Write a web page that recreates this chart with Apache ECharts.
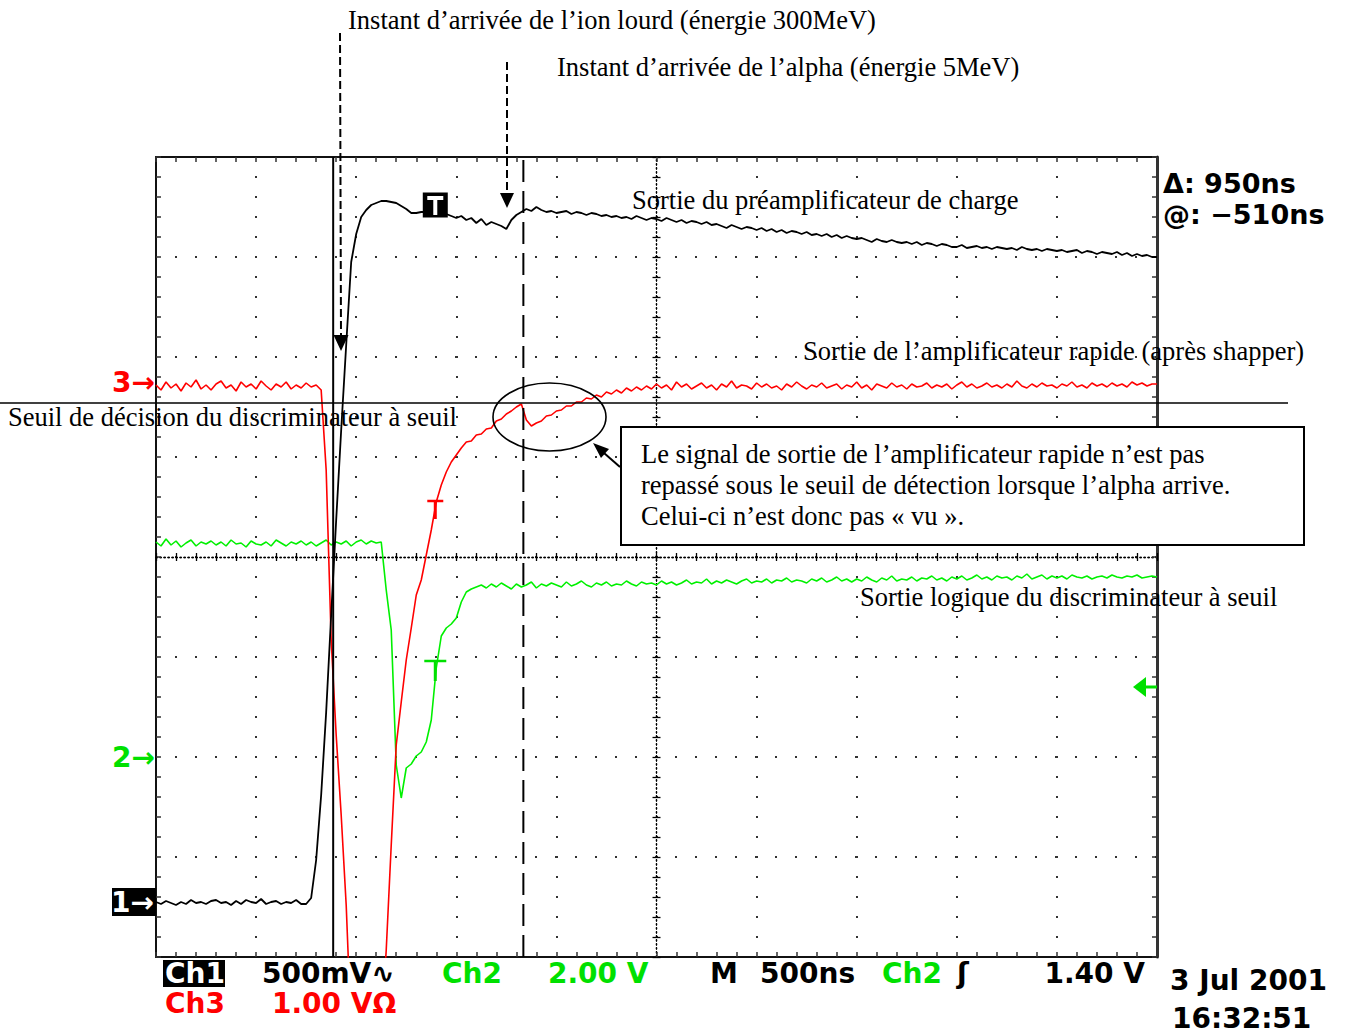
<!DOCTYPE html>
<html>
<head>
<meta charset="utf-8">
<script src="https://cdn.jsdelivr.net/npm/echarts@6/dist/echarts.min.js"></script>
<style>
html,body{margin:0;padding:0;background:#fff;}
#c{width:1350px;height:1035px;}
</style>
</head>
<body>
<div id="c"></div>
<script>
// ---- oscilloscope timebase (ns) : 500 ns/div, 10 div, samples every 25 ns
const T0 = -2500, DT = 25;
const timeMin = -2500, timeMax = 2500, timeStep = 500;
const divMin = -4, divMax = 4;

// ---- channel settings (V/div, ground position in divisions)
const ch1Scale = 0.5, ch1Ground = -3.45;   // preamp (black)
const ch2Scale = 2.0, ch2Ground = -2.0;    // logic output (green)
const ch3Scale = 1.0, ch3Ground = 1.75;    // fast amp (red)

// ---- cursors, trigger, threshold
const cursorTimes = [-1615, -665];         // Δ 950 ns
const triggerTime = -1105;
const triggerLevelCh2 = 1.40;              // V
const thresholdCh3 = -0.21;                // V
const triggerMarkVolts = [3.485, 1.92, -1.19]; // ch1, ch2, ch3

// ---- Ch1 : sortie du préamplificateur de charge (V)
const ch1Volts = [
 0.000,-0.010,0.005,-0.005,-0.015,0.000,-0.010,0.010,-0.005,0.000,
 -0.010,0.005,0.010,-0.005,0.000,-0.015,0.005,-0.010,0.010,0.000,
 -0.005,0.015,-0.010,0.000,0.005,-0.010,0.000,-0.005,0.010,-0.010,
 -0.010,0.020,0.210,0.535,0.950,1.435,1.910,2.360,2.785,3.200,
 3.340,3.425,3.460,3.485,3.495,3.505,3.505,3.500,3.495,3.480,
 3.465,3.445,3.445,3.450,3.450,3.445,3.450,3.445,3.440,3.430,
 3.420,3.430,3.410,3.420,3.395,3.415,3.385,3.400,3.390,3.380,
 3.365,3.410,3.435,3.450,3.465,3.455,3.475,3.460,3.450,3.455,
 3.445,3.450,3.455,3.440,3.450,3.445,3.435,3.445,3.440,3.430,
 3.435,3.425,3.430,3.420,3.425,3.415,3.430,3.420,3.410,3.420,
 3.415,3.405,3.420,3.410,3.400,3.410,3.395,3.405,3.400,3.390,
 3.400,3.385,3.390,3.380,3.370,3.385,3.375,3.365,3.375,3.370,
 3.360,3.370,3.355,3.365,3.350,3.360,3.345,3.355,3.350,3.340,
 3.350,3.335,3.340,3.330,3.340,3.325,3.335,3.320,3.330,3.320,
 3.315,3.320,3.310,3.300,3.315,3.305,3.300,3.310,3.300,3.295,
 3.300,3.290,3.300,3.285,3.295,3.290,3.280,3.290,3.285,3.275,
 3.275,3.285,3.270,3.275,3.280,3.270,3.275,3.265,3.275,3.270,
 3.265,3.270,3.260,3.275,3.265,3.260,3.265,3.255,3.265,3.260,
 3.255,3.260,3.250,3.255,3.260,3.245,3.255,3.250,3.240,3.250,
 3.245,3.240,3.250,3.235,3.245,3.230,3.240,3.230,3.235,3.225,
 3.225
];

// ---- Ch2 : sortie logique du discriminateur (V)
const ch2Volts = [
 4.30,4.22,4.36,4.24,4.32,4.20,4.28,4.34,4.22,4.30,
 4.26,4.32,4.24,4.30,4.22,4.34,4.26,4.28,4.20,4.32,
 4.26,4.24,4.30,4.22,4.34,4.28,4.22,4.30,4.26,4.32,
 4.24,4.30,4.22,4.28,4.34,4.24,4.30,4.26,4.32,4.22,
 4.30,4.34,4.26,4.32,4.28,4.30,3.34,2.54,-0.16,-0.82,
 -0.22,-0.14,0.02,0.10,0.30,0.74,1.78,2.42,2.58,2.66,
 2.78,3.10,3.30,3.36,3.40,3.44,3.38,3.46,3.40,3.48,
 3.42,3.36,3.46,3.40,3.44,3.50,3.38,3.46,3.42,3.48,
 3.44,3.40,3.50,3.42,3.46,3.52,3.44,3.40,3.48,3.44,
 3.50,3.42,3.46,3.44,3.52,3.46,3.42,3.50,3.46,3.48,
 3.44,3.52,3.46,3.50,3.44,3.48,3.54,3.46,3.50,3.48,
 3.56,3.46,3.52,3.48,3.54,3.50,3.46,3.52,3.56,3.48,
 3.52,3.50,3.56,3.48,3.54,3.52,3.58,3.50,3.54,3.52,
 3.48,3.56,3.52,3.58,3.50,3.54,3.60,3.52,3.56,3.50,
 3.56,3.52,3.60,3.54,3.50,3.58,3.54,3.62,3.52,3.56,
 3.54,3.60,3.52,3.58,3.56,3.62,3.54,3.58,3.52,3.60,
 3.56,3.62,3.54,3.58,3.64,3.56,3.60,3.54,3.62,3.58,
 3.60,3.54,3.62,3.58,3.66,3.56,3.60,3.64,3.56,3.62,
 3.58,3.62,3.56,3.64,3.60,3.58,3.62,3.56,3.60,3.62,
 3.58,3.64,3.60,3.58,3.62,3.60,3.64,3.58,3.60,3.62,
 3.60
];

// ---- Ch3 : sortie de l'amplificateur rapide (V)
const ch3Volts = [
 -0.03,-0.08,0.00,-0.06,-0.02,-0.09,-0.01,-0.05,0.02,-0.07,
 -0.03,-0.08,-0.02,0.01,-0.06,-0.03,-0.09,0.00,-0.05,-0.02,
 -0.07,0.01,-0.04,-0.08,-0.02,-0.05,0.00,-0.07,-0.03,-0.06,
 -0.01,-0.05,-0.03,-0.08,-0.88,-2.58,-3.53,-4.33,-5.23,-6.50,
 -6.50,-6.50,-6.50,-6.50,-6.50,-6.50,-5.68,-4.63,-3.63,-3.20,
 -2.78,-2.46,-2.13,-1.98,-1.73,-1.48,-1.20,-1.03,-0.90,-0.80,
 -0.73,-0.66,-0.60,-0.59,-0.53,-0.52,-0.47,-0.46,-0.39,-0.37,
 -0.32,-0.29,-0.25,-0.22,-0.38,-0.44,-0.41,-0.39,-0.34,-0.33,
 -0.29,-0.28,-0.24,-0.24,-0.20,-0.20,-0.16,-0.17,-0.13,-0.15,
 -0.10,-0.12,-0.08,-0.11,-0.06,-0.09,-0.05,-0.08,-0.04,-0.07,
 -0.02,-0.06,-0.03,-0.08,0.00,-0.05,-0.02,-0.07,-0.04,-0.01,
 -0.06,-0.03,-0.08,-0.02,-0.05,0.01,-0.06,-0.03,-0.04,-0.07,
 -0.01,-0.05,-0.02,-0.06,-0.04,-0.08,-0.02,-0.05,0.00,-0.04,
 -0.07,-0.03,-0.05,-0.01,-0.06,-0.04,-0.02,-0.07,-0.03,-0.05,
 0.00,-0.06,-0.03,-0.08,-0.02,-0.04,-0.06,-0.01,-0.05,-0.03,
 -0.07,-0.02,-0.05,-0.04,-0.01,-0.06,-0.03,-0.05,-0.02,-0.07,
 -0.03,0.00,-0.05,-0.02,-0.06,-0.04,-0.01,-0.05,-0.03,-0.06,
 -0.02,-0.05,0.01,-0.04,-0.06,-0.02,-0.05,-0.01,-0.04,-0.03,
 -0.06,-0.02,-0.04,0.00,-0.05,-0.03,-0.06,-0.01,-0.04,-0.02,
 -0.05,-0.01,-0.04,-0.02,-0.05,0.00,-0.03,-0.01,-0.04,-0.02,
 -0.02
];

// ---- texts
const annotations = {
  ion: 'Instant d\u2019arrivée de l\u2019ion lourd (énergie 300MeV)',
  alpha: 'Instant d\u2019arrivée de l\u2019alpha (énergie 5MeV)',
  preamp: 'Sortie du préamplificateur de charge',
  fast: 'Sortie de l\u2019amplificateur rapide (après shapper)',
  seuil: 'Seuil de décision du discriminateur à seuil',
  logic: 'Sortie logique du discriminateur à seuil'
};
const boxLines = [
  'Le signal de sortie de l\u2019amplificateur rapide n\u2019est pas',
  'repassé sous le seuil de détection lorsque l\u2019alpha arrive.',
  'Celui-ci n\u2019est donc pas «\u00a0vu\u00a0».'
];

function toDiv(v, ground, scale) { return ground + v / scale; }
function build(volts, ground, scale) {
  return volts.map(function (v, i) { return [T0 + i * DT, +(toDiv(v, ground, scale)).toFixed(4)]; });
}

const chart = echarts.init(document.getElementById('c'), null, { renderer: 'svg', width: 1350, height: 1035 });

const frameLine = { show: true, onZero: false, lineStyle: { color: '#111', width: 2 } };
const frameTick = { show: true, inside: true, length: 5, lineStyle: { color: '#333', width: 1.5 } };
const frameMinor = { show: true, splitNumber: 5, length: 5, lineStyle: { color: '#333', width: 1.5 } };
const dotted = { show: true, lineStyle: { color: '#333', width: 2, type: [2, 18], dashOffset: 1 } };

function xAx(pos, extra) {
  return Object.assign({ type: 'value', min: timeMin, max: timeMax, interval: timeStep, position: pos,
    axisLabel: { show: false }, splitLine: { show: false }, silent: true }, extra);
}
function yAx(pos, extra) {
  return Object.assign({ type: 'value', min: divMin, max: divMax, interval: 1, position: pos,
    axisLabel: { show: false }, splitLine: { show: false }, silent: true }, extra);
}
const centerLine = { show: true, onZero: true, onZeroAxisIndex: 0, lineStyle: { color: '#000', width: 1.3, type: [1.3, 2.7] } };
function cTick(inside) { return { show: true, inside: inside, length: 4, lineStyle: { color: '#000', width: 1.3 } }; }
function cMinor() { return { show: true, splitNumber: 5, length: 4, lineStyle: { color: '#000', width: 1.3 } }; }

const option = {
  animation: false,
  backgroundColor: '#fff',
  grid: { left: 156, top: 157, width: 1001, height: 800, containLabel: false, outerBoundsMode: 'none' },
  xAxis: [
    xAx('bottom', { axisLine: frameLine, axisTick: frameTick, minorTick: frameMinor, splitLine: dotted }),
    xAx('top', { axisLine: frameLine, axisTick: frameTick, minorTick: frameMinor }),
    xAx('bottom', { axisLine: centerLine, axisTick: cTick(true), minorTick: cMinor() }),
    xAx('bottom', { axisLine: centerLine, axisTick: cTick(false), minorTick: cMinor() })
  ],
  yAxis: [
    yAx('left', { axisLine: frameLine, axisTick: frameTick, minorTick: frameMinor, splitLine: dotted }),
    yAx('right', { axisLine: { show: true, onZero: false, lineStyle: { color: '#333', width: 3 } }, axisTick: frameTick, minorTick: frameMinor }),
    yAx('left', { axisLine: centerLine, axisTick: cTick(true), minorTick: cMinor() }),
    yAx('left', { axisLine: centerLine, axisTick: cTick(false), minorTick: cMinor() })
  ],
  series: [
    { name: 'Ch2', type: 'line', data: build(ch2Volts, ch2Ground, ch2Scale), showSymbol: false, silent: true,
      lineStyle: { color: '#00f000', width: 1.6 }, z: 3 },
    { name: 'Ch3', type: 'line', data: build(ch3Volts, ch3Ground, ch3Scale), showSymbol: false, silent: true,
      lineStyle: { color: '#ff0000', width: 1.6 }, z: 4 },
    { name: 'Ch1', type: 'line', data: build(ch1Volts, ch1Ground, ch1Scale), showSymbol: false, silent: true,
      lineStyle: { color: '#000', width: 1.8 }, z: 5 },
    { name: 'Curseur 1', type: 'line', data: [[cursorTimes[0], divMin], [cursorTimes[0], divMax]], showSymbol: false, silent: true,
      lineStyle: { color: '#000', width: 2 }, z: 6 },
    { name: 'Curseur 2', type: 'line', data: [[cursorTimes[1], divMin], [cursorTimes[1], divMax]], showSymbol: false, silent: true,
      lineStyle: { color: '#000', width: 2, type: [22, 9] }, z: 6 }
  ]
};
chart.setOption(option);

// ---- annotations, anchored with the chart's own scales where they relate to data
function P(t, d) { return chart.convertToPixel({ seriesIndex: 0 }, [t, d]); }
const G = [];
const serifFont = '26.5px "Liberation Serif", "Times New Roman", serif';
const scopeFont = 'bold 28px "DejaVu Sans", sans-serif';
const readoutFont = 'bold 27px "DejaVu Sans", sans-serif';
function txt(x, y, s, font, color, align, z) {
  G.push({ type: 'text', x: x, y: y, z: z || 110, silent: true,
    style: { text: s, font: font, fill: color, textAlign: align || 'left', textVerticalAlign: 'middle' } });
}
function line(x1, y1, x2, y2, w, dash, color, z) {
  G.push({ type: 'line', z: z || 105, silent: true, shape: { x1: x1, y1: y1, x2: x2, y2: y2 },
    style: { stroke: color || '#000', lineWidth: w, lineDash: dash || null } });
}
function poly(pts, color, z) {
  G.push({ type: 'polygon', z: z || 106, silent: true, shape: { points: pts }, style: { fill: color || '#000' } });
}
function rect(x, y, w, h, fill, stroke, z) {
  G.push({ type: 'rect', z: z || 104, silent: true, shape: { x: x, y: y, width: w, height: h },
    style: { fill: fill, stroke: stroke || null, lineWidth: stroke ? 2 : 0 } });
}

// threshold line
const yThr = P(0, toDiv(thresholdCh3, ch3Ground, ch3Scale))[1];
line(0, yThr, 1288, yThr, 1.5);

// annotation texts
txt(348, 20, annotations.ion, serifFont, '#000');
txt(557, 67, annotations.alpha, serifFont, '#000');
txt(632, 200, annotations.preamp, serifFont, '#000');
txt(803, 351, annotations.fast, serifFont, '#000');
txt(8, 417, annotations.seuil, serifFont, '#000');
txt(860, 597, annotations.logic, serifFont, '#000');

// dashed arrows
line(340, 33, 341, 336, 2, [8, 4]);
poly([[333.5, 335], [348.5, 335], [341, 351]]);
line(507, 62, 507, 194, 2, [8, 4]);
poly([[500, 193], [514, 193], [507, 208]]);

// ellipse + arrow + box
G.push({ type: 'ellipse', z: 105, silent: true, shape: { cx: 549.5, cy: 417, rx: 56.5, ry: 34 },
  style: { fill: 'none', stroke: '#000', lineWidth: 1.6 } });
line(620, 467, 604, 453, 2);
poly([[593, 443], [609, 449.1], [601, 458.1]]);
rect(621, 427, 683, 118, '#fff', '#000', 104);
txt(641, 454, boxLines[0], serifFont, '#000', 'left', 111);
txt(641, 485, boxLines[1], serifFont, '#000', 'left', 111);
txt(641, 516, boxLines[2], serifFont, '#000', 'left', 111);

// cursor readout
txt(1163, 183, '\u0394: 950ns', readoutFont, '#000');
txt(1163, 214, '@: \u2212510ns', readoutFont, '#000');

// channel ground markers
const g3 = P(0, ch3Ground)[1], g2 = P(0, ch2Ground)[1], g1 = P(0, ch1Ground)[1];
txt(155, g3, '3\u2192', scopeFont, '#ff0000', 'right');
txt(155, g2, '2\u2192', scopeFont, '#00e000', 'right');
rect(112, g1 - 14, 44, 28, '#000', null, 104);
txt(154, g1, '1\u2192', scopeFont, '#fff', 'right', 111);

// trigger level marker (right edge)
const yTrig = P(0, toDiv(triggerLevelCh2, ch2Ground, ch2Scale))[1];
poly([[1133, yTrig], [1146, yTrig - 10], [1146, yTrig + 10]], '#00e000');
line(1145, yTrig, 1157, yTrig, 3, null, '#00e000');

// trigger "T" marks on each trace
const tb = P(triggerTime, toDiv(triggerMarkVolts[0], ch1Ground, ch1Scale));
rect(tb[0] - 12.5, tb[1] - 12.5, 25, 25, '#000', null, 107);
G.push({ type: 'rect', z: 108, silent: true, shape: { x: tb[0] - 8, y: tb[1] - 9, width: 16, height: 4 }, style: { fill: '#fff' } });
G.push({ type: 'rect', z: 108, silent: true, shape: { x: tb[0] - 2, y: tb[1] - 9, width: 4, height: 19 }, style: { fill: '#fff' } });
const tg = P(triggerTime, toDiv(triggerMarkVolts[1], ch2Ground, ch2Scale));
line(tg[0] - 11, tg[1], tg[0] + 11, tg[1], 2.5, null, '#00e000');
line(tg[0], tg[1], tg[0], tg[1] + 20, 3, null, '#00e000');
const tr = P(triggerTime, toDiv(triggerMarkVolts[2], ch3Ground, ch3Scale));
line(tr[0] - 8, tr[1], tr[0] + 8, tr[1], 2.5, null, '#ff0000');
line(tr[0], tr[1], tr[0], tr[1] + 18, 3, null, '#ff0000');

// bottom status line
rect(163, 960, 62, 27, '#000', null, 104);
txt(165, 973, 'Ch1', scopeFont, '#fff', 'left', 111);
txt(262, 973, '500mV\u223f', scopeFont, '#000');
txt(442, 973, 'Ch2', scopeFont, '#00e000');
txt(548, 973, '2.00 V', scopeFont, '#00e000');
txt(710, 973, 'M', scopeFont, '#000');
txt(760, 973, '500ns', scopeFont, '#000');
txt(882, 973, 'Ch2', scopeFont, '#00e000');
txt(957, 973, '\u0283', scopeFont, '#000');
txt(1145, 973, '1.40 V', scopeFont, '#000', 'right');
txt(165, 1003, 'Ch3', scopeFont, '#ff0000');
txt(272, 1003, '1.00 V\u03a9', scopeFont, '#ff0000');
txt(1170, 980, '3 Jul 2001', scopeFont, '#000');
txt(1172, 1018, '16:32:51', scopeFont, '#000');

chart.setOption({ graphic: { elements: G } });
</script>
</body>
</html>
